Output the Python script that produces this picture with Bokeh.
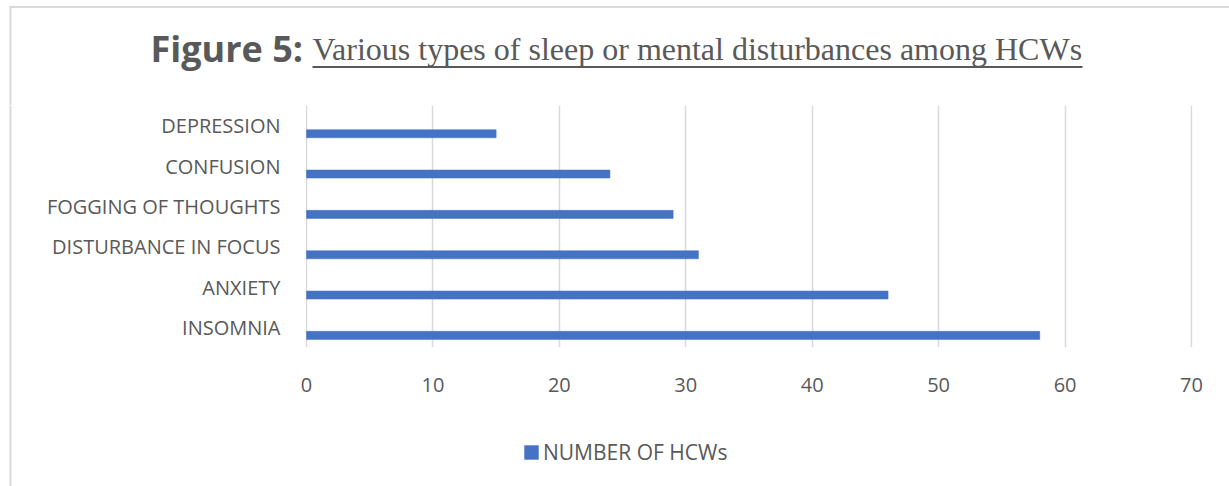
from bokeh.plotting import figure
from bokeh.models import (FactorRange, Range1d, Label, Legend, LegendItem,
                          ColumnDataSource, FixedTicker)
from bokeh.transform import dodge
from bokeh.layouts import column, row
from bokeh.embed import file_html
from bokeh.resources import INLINE

categories = ["INSOMNIA", "ANXIETY", "DISTURBANCE IN FOCUS", "FOGGING OF THOUGHTS",
              "CONFUSION", "DEPRESSION"]
values = [58, 46, 31, 29, 24, 15]
x_ticks = [0, 10, 20, 30, 40, 50, 60, 70]
series_name = "NUMBER OF HCWs"
title_bold = "Figure 5:"
title_rest = "Various types of sleep or mental disturbances among HCWs"

GRAY = "#595959"
BLUE = "#4472c4"
BORDER = "#d9d9d9"
FONT = "Open Sans"


def blank(w, h):
    f = figure(width=w, height=h, output_backend="svg", toolbar_location=None,
               x_range=Range1d(0, w), y_range=Range1d(h, 0), x_axis_type=None,
               y_axis_type=None, min_border=0, title=None)
    f.outline_line_color = None
    f.grid.grid_line_color = None
    f.background_fill_color = "white"
    f.border_fill_color = "white"
    return f


# ---- title strip (with chart border top/left) ----
tf = blank(1229, 105)
tf.segment(x0=[9, 10], y0=[6.5, 6], x1=[1229, 10], y1=[6.5, 105],
           line_color=BORDER, line_width=2)
tf.add_layout(Label(x=150, y=48.3, text=title_bold, text_font=FONT, text_font_style="bold",
                    text_font_size="36px", text_color=GRAY, text_baseline="alphabetic"))
tf.add_layout(Label(x=312, y=48.3, text=title_rest, text_font="Liberation Serif",
                    text_font_size="32px", text_color=GRAY, text_baseline="alphabetic"))
tf.segment(x0=[312], y0=[66.5], x1=[1082], y1=[66.5], line_color=GRAY, line_width=2)

# ---- left border strip ----
lf = blank(12, 381)
lf.segment(x0=[10], y0=[0], x1=[10], y1=[381], line_color=BORDER, line_width=2)

# ---- main chart ----
src = ColumnDataSource(dict(cat=categories, val=values))

p = figure(width=1217, height=315, output_backend="svg", toolbar_location=None,
           y_range=FactorRange(factors=categories, range_padding=0),
           x_range=Range1d(-0.08, 70.08), title=None,
           min_border_left=293, min_border_right=37, min_border_top=0, min_border_bottom=73)
p.outline_line_color = None
p.background_fill_color = "white"
p.border_fill_color = "white"

r = p.hbar(y=dodge("cat", -0.2, range=p.y_range), right="val", left=0, height=0.2,
           source=src, fill_color=BLUE, line_color=BLUE, line_width=0.5)

p.xaxis.ticker = FixedTicker(ticks=x_ticks)
for ax in (p.xaxis[0], p.yaxis[0]):
    ax.axis_line_color = None
    ax.major_tick_line_color = None
    ax.minor_tick_line_color = None
    ax.major_label_text_font = FONT
    ax.major_label_text_font_size = "20px"
    ax.major_label_text_color = GRAY
p.xaxis.major_label_standoff = 24
p.yaxis.major_label_standoff = 19

p.xgrid.grid_line_color = BORDER
p.xgrid.grid_line_width = 1.5
p.ygrid.grid_line_color = None

# ---- legend strip (its frame is aligned with the main frame by the layout) ----
bf = blank(1217, 66)
key = bf.hbar(y="val", left=0, right=0, height=0, source=src,
              fill_color=BLUE, line_color=None)
legend = Legend(items=[LegendItem(label=series_name, renderers=[key])],
                location=(217, 20), orientation="horizontal",
                glyph_width=18, glyph_height=18, label_standoff=3, padding=0, margin=0,
                border_line_color=None, background_fill_alpha=0,
                label_text_font=FONT, label_text_font_size="21px", label_text_color=GRAY)
bf.add_layout(legend, "center")

layout = column(tf, row(lf, column(p, bf)))
open("out.html", "w").write(file_html(layout, INLINE))
